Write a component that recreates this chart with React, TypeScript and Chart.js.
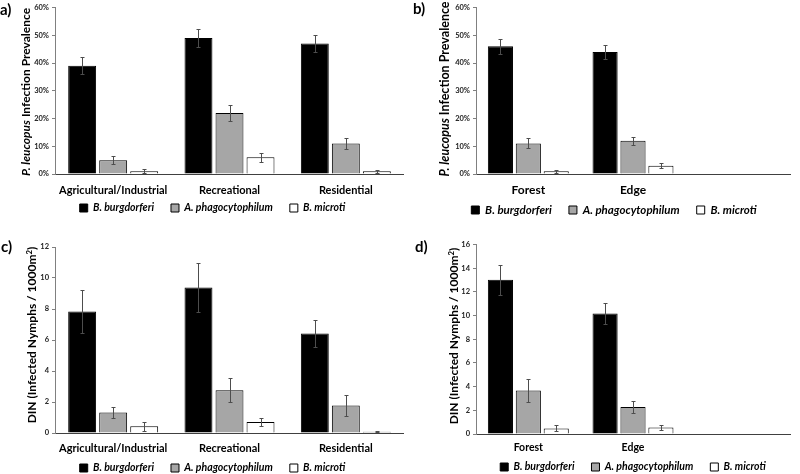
import React, { useEffect, useRef } from "react";
import { Chart, registerables } from "chart.js";

Chart.register(...registerables);

// ---------------- DATA ----------------
const seriesNames = ["B. burgdorferi", "A. phagocytophilum", "B. microti"];
const landUseCategories = ["Agricultural/Industrial", "Recreational", "Residential"];
const habitatCategories = ["Forest", "Edge", ""];

const prevalenceTicks = [0, 10, 20, 30, 40, 50, 60];
const dinLandTicks = [0, 2, 4, 6, 8, 10, 12];
const dinHabitatTicks = [0, 2, 4, 6, 8, 10, 12, 14, 16];

// a) P. leucopus infection prevalence (%) by land use
const prevLandBb = [39, 49, 47];
const prevLandBbErr = [3, 3.3, 3.1];
const prevLandAp = [5, 22, 11];
const prevLandApErr = [1.4, 2.8, 2];
const prevLandBm = [1, 6, 1];
const prevLandBmErr = [0.7, 1.7, 0.6];

// b) P. leucopus infection prevalence (%) by habitat
const prevHabBb = [46, 44];
const prevHabBbErr = [2.7, 2.5];
const prevHabAp = [11, 12];
const prevHabApErr = [1.8, 1.5];
const prevHabBm = [1, 3];
const prevHabBmErr = [0.6, 0.8];

// c) DIN by land use
const dinLandBb = [7.84, 9.38, 6.42];
const dinLandBbErr = [1.4, 1.57, 0.9];
const dinLandAp = [1.33, 2.76, 1.78];
const dinLandApErr = [0.36, 0.78, 0.66];
const dinLandBm = [0.43, 0.71, 0.08];
const dinLandBmErr = [0.27, 0.26, 0.02];

// d) DIN by habitat
const dinHabBb = [13.03, 10.18];
const dinHabBbErr = [1.26, 0.87];
const dinHabAp = [3.68, 2.27];
const dinHabApErr = [0.94, 0.53];
const dinHabBm = [0.47, 0.55];
const dinHabBmErr = [0.25, 0.25];

// ---------------- STYLE ----------------
const FONT = "Lato, 'Open Sans', 'Liberation Sans', sans-serif";
const seriesFill = ["#000000", "#a6a6a6", "#ffffff"];
const LEGEND_PAD = 17;

const errorBarPlugin = {
  id: "errorBars",
  afterDatasetsDraw(chart: any) {
    const ctx = chart.ctx;
    const yScale = chart.scales.y;
    chart.data.datasets.forEach((ds: any, i: number) => {
      const meta = chart.getDatasetMeta(i);
      const errs = ds.errors || [];
      meta.data.forEach((bar: any, j: number) => {
        const v = ds.data[j];
        const e = errs[j];
        if (v == null || e == null) return;
        const xx = Math.round(bar.x) + 0.5;
        const yTop = Math.round(yScale.getPixelForValue(v + e)) + 0.5;
        const yBot = Math.round(yScale.getPixelForValue(Math.max(0, v - e))) + 0.5;
        ctx.save();
        ctx.strokeStyle = "#4d4d4d";
        ctx.lineWidth = 1;
        ctx.beginPath();
        ctx.moveTo(xx, yTop);
        ctx.lineTo(xx, yBot);
        ctx.moveTo(xx - 2, yTop);
        ctx.lineTo(xx + 2, yTop);
        ctx.moveTo(xx - 2, yBot);
        ctx.lineTo(xx + 2, yBot);
        ctx.stroke();
        ctx.restore();
      });
    });
  },
};

type PanelSpec = {
  id: string;
  left: number;
  top: number;
  width: number;
  height: number;
  labels: string[];
  values: number[][];
  errors: number[][];
  ticks: number[];
  percent: boolean;
  pad: { left: number; right: number; top: number; bottom: number };
  yWidth: number;
  xHeight: number;
  legendHeight: number;
  legendFull: boolean;
  xPad: number;
  xFont: number;
  legendFont: number;
  legendCy: number;
};

function placeLegend(chart: any, spec: PanelSpec) {
  const lg = chart.legend;
  if (!lg) return;
  lg.top = spec.legendCy - LEGEND_PAD - spec.legendFont / 2;
  lg.height = 40;
  lg.bottom = lg.top + lg.height;
}

function ChartPanel({ spec }: { spec: PanelSpec }) {
  const ref = useRef<HTMLCanvasElement | null>(null);
  useEffect(() => {
    if (!ref.current) return;
    const legendPatch = {
      id: "fixedLegend" + spec.id,
      beforeLayout(chart: any) {
        const lg = chart.legend;
        if (lg && !lg.__fixed) {
          const orig = lg.fit;
          lg.fit = function () {
            orig.call(this);
            this.height = spec.legendHeight;
          };
          lg.__fixed = true;
        }
      },
      afterLayout(chart: any) {
        placeLegend(chart, spec);
      },
    };
    const chart = new Chart(ref.current, {
      type: "bar",
      data: {
        labels: spec.labels,
        datasets: seriesNames.map((name, i) => ({
          label: name,
          data: spec.values[i],
          errors: spec.errors[i],
          backgroundColor: seriesFill[i],
          borderColor: "#000000",
          borderWidth: 1,
          categoryPercentage: 0.8,
          barPercentage: 0.9,
        })) as any,
      },
      options: {
        responsive: false,
        animation: false,
        layout: { padding: spec.pad },
        scales: {
          x: {
            grid: { display: false, drawTicks: false },
            border: { display: true, color: "#404040", width: 1 },
            ticks: {
              padding: spec.xPad,
              color: "#000000",
              maxRotation: 0,
              autoSkip: false,
              font: { family: FONT, size: spec.xFont, weight: "bold" },
            },
            afterFit: (s: any) => {
              s.height = spec.xHeight;
            },
          },
          y: {
            min: spec.ticks[0],
            max: spec.ticks[spec.ticks.length - 1],
            afterBuildTicks: (s: any) => {
              s.ticks = spec.ticks.map((v) => ({ value: v }));
            },
            grid: {
              drawOnChartArea: false,
              drawTicks: true,
              tickLength: 3,
              color: "#808080",
            },
            border: { display: true, color: "#808080", width: 1 },
            ticks: {
              padding: 3,
              color: "#222222",
              font: { family: FONT, size: 7.5, weight: "bold" },
              callback: (v: any) => (spec.percent ? `${v}%` : `${v}`),
            },
            afterFit: (s: any) => {
              s.width = spec.yWidth;
            },
          },
        },
        plugins: {
          legend: {
            position: "bottom",
            align: "center",
            fullSize: spec.legendFull,
            labels: {
              boxWidth: 8,
              boxHeight: 8,
              padding: LEGEND_PAD,
              color: "#000000",
              font: { family: FONT, size: spec.legendFont, weight: "bold", style: "italic" },
            },
          },
          tooltip: { enabled: false },
        },
      } as any,
      plugins: [errorBarPlugin, legendPatch],
    });
    return () => chart.destroy();
  }, [spec]);
  return (
    <canvas
      ref={ref}
      width={spec.width}
      height={spec.height}
      style={{ position: "absolute", left: spec.left, top: spec.top, width: spec.width, height: spec.height }}
    />
  );
}

const panelA: PanelSpec = {
  id: "A", left: 0, top: 0, width: 404, height: 237,
  labels: landUseCategories,
  values: [prevLandBb, prevLandAp, prevLandBm],
  errors: [prevLandBbErr, prevLandApErr, prevLandBmErr],
  ticks: prevalenceTicks, percent: true,
  pad: { left: 21, right: 0, top: 7, bottom: 29 },
  yWidth: 34, xHeight: 24, legendHeight: 10, legendFull: true, xPad: 9.4, xFont: 11, legendFont: 10.5,
  legendCy: 208,
};
const panelB: PanelSpec = {
  id: "B", left: 400, top: 0, width: 400, height: 237,
  labels: habitatCategories,
  values: [prevHabBb, prevHabAp, prevHabBm],
  errors: [prevHabBbErr, prevHabApErr, prevHabBmErr],
  ticks: prevalenceTicks, percent: true,
  pad: { left: 38, right: 10, top: 7, bottom: 28 },
  yWidth: 38, xHeight: 25, legendHeight: 10, legendFull: true, xPad: 9, xFont: 12, legendFont: 11.5,
  legendCy: 210,
};
const panelC: PanelSpec = {
  id: "C", left: 0, top: 237, width: 404, height: 237,
  labels: landUseCategories,
  values: [dinLandBb, dinLandAp, dinLandBm],
  errors: [dinLandBbErr, dinLandApErr, dinLandBmErr],
  ticks: dinLandTicks, percent: false,
  pad: { left: 21, right: 0, top: 10, bottom: 8 },
  yWidth: 34, xHeight: 23, legendHeight: 10, legendFull: true, xPad: 8.4, xFont: 11, legendFont: 10.5,
  legendCy: 231,
};
const panelD: PanelSpec = {
  id: "D", left: 400, top: 237, width: 400, height: 237,
  labels: habitatCategories,
  values: [dinHabBb, dinHabAp, dinHabBm],
  errors: [dinHabBbErr, dinHabApErr, dinHabBmErr],
  ticks: dinHabitatTicks, percent: false,
  pad: { left: 46, right: 10, top: 5, bottom: 8 },
  yWidth: 30, xHeight: 22, legendHeight: 10, legendFull: false, xPad: 7.4, xFont: 10.5, legendFont: 10.5,
  legendCy: 230,
};

const textBase: React.CSSProperties = {
  position: "absolute",
  fontFamily: FONT,
  fontWeight: 700,
  color: "#000",
  whiteSpace: "nowrap",
  lineHeight: 1,
};

function PanelLetter({ text, x, cy }: { text: string; x: number; cy: number }) {
  return <div style={{ ...textBase, left: x, top: cy - 7.5, fontSize: 15 }}>{text}</div>;
}

function YTitle({ cx, cy, size, children }: { cx: number; cy: number; size: number; children: React.ReactNode }) {
  return (
    <div
      style={{
        ...textBase,
        left: cx,
        top: cy,
        fontSize: size,
        transform: "translate(-50%, -50%) rotate(-90deg)",
      }}
    >
      {children}
    </div>
  );
}

const supStyle: React.CSSProperties = { fontSize: "0.65em", verticalAlign: "0.5em", lineHeight: 0 };

export default function App() {
  return (
    <div style={{ position: "absolute", left: 0, top: 0, width: 800, height: 474, background: "#fff", overflow: "hidden" }}>
      <ChartPanel spec={panelA} />
      <ChartPanel spec={panelB} />
      <ChartPanel spec={panelC} />
      <ChartPanel spec={panelD} />
      <PanelLetter text="a)" x={0} cy={9} />
      <PanelLetter text="b)" x={413} cy={8} />
      <PanelLetter text="c)" x={1} cy={246} />
      <PanelLetter text="d)" x={415} cy={246} />
      <YTitle cx={26} cy={92} size={12}>
        <i>P. leucopus</i> Infection Prevalence
      </YTitle>
      <YTitle cx={445} cy={89} size={12.5}>
        <i>P. leucopus</i> Infection Prevalence
      </YTitle>
      <YTitle cx={32} cy={335} size={12}>
        DIN (Infected Nymphs / 1000m<sup style={supStyle}>2</sup>)
      </YTitle>
      <YTitle cx={454} cy={336} size={12}>
        DIN (Infected Nymphs / 1000m<sup style={supStyle}>2</sup>)
      </YTitle>
    </div>
  );
}
